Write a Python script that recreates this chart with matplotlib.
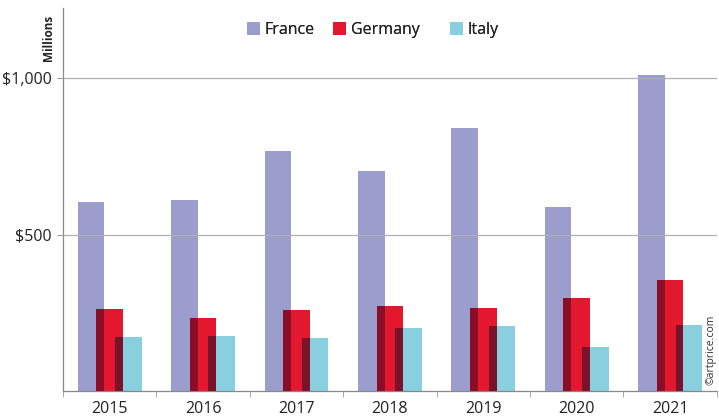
import matplotlib.pyplot as plt
import matplotlib.colors as mc
import numpy as np

plt.rcParams['font.family'] = ['Open Sans', 'DejaVu Sans']

years = ['2015', '2016', '2017', '2018', '2019', '2020', '2021']
france = [606, 612, 769, 702, 840, 587, 1010]
germany = [263, 234, 260, 272, 266, 298, 356]
italy = [173, 176, 170, 202, 208, 141, 212]

c_fr = '#9b9ecd'
c_de = '#e3182f'
c_it = '#88cfe0'


def multiply(a, b):
    # colour of two bars seen through each other (multiply blend)
    ra, rb = mc.to_rgb(a), mc.to_rgb(b)
    return tuple(p * q for p, q in zip(ra, rb))


fig = plt.figure(figsize=(7.19, 4.18), dpi=100)
ax = fig.add_axes([0.0876, 0.0646, 0.9094, 0.9164])

x = np.arange(len(years))
off = 0.2
w = 0.285

b_fr = ax.bar(x - off, france, w, color=c_fr, label='France', zorder=2)
b_de = ax.bar(x, germany, w, color=c_de, label='Germany', zorder=2)
b_it = ax.bar(x + off, italy, w, color=c_it, label='Italy', zorder=2)

# overlap strips
ov = w - off
ax.bar(x - w / 2 + ov / 2, np.minimum(france, germany), ov,
       color=multiply(c_fr, c_de), zorder=3)
ax.bar(x + off - w / 2 + ov / 2, np.minimum(germany, italy), ov,
       color=multiply(c_de, c_it), zorder=3)

ax.set_xlim(-0.5, len(years) - 0.5)
ax.set_ylim(0, 1225)
ax.set_yticks([500, 1000])
ax.set_yticklabels(['$500', '$1,000'], fontsize=11.5, color='#222222')
ax.yaxis.grid(True, color='#b0b0b0', linewidth=0.9, zorder=4)
ax.set_axisbelow(False)

ax.set_xticks(x)
ax.set_xticklabels(years, fontsize=11.5, color='#222222')
ax.set_xticks(np.arange(len(years) + 1) - 0.5, minor=True)
ax.tick_params(axis='x', which='major', length=0, pad=7)
ax.tick_params(axis='x', which='minor', length=4, color='#999999')
ax.tick_params(axis='y', length=4, color='#999999', pad=4)

for s in ['top', 'right']:
    ax.spines[s].set_visible(False)
for s in ['left', 'bottom']:
    ax.spines[s].set_color('#888888')
    ax.spines[s].set_linewidth(0.9)

fig.text(0.068, 0.964, 'Millions', rotation=90, fontsize=8.5, fontweight='bold',
         ha='center', va='top', color='#222222')
fig.text(0.989, 0.079, '©artprice.com', rotation=90, fontsize=7.5,
         ha='center', va='bottom', color='#333333')

# legend entries placed one by one, as in the original
for bars, name, xpos in [(b_fr, 'France', 247), (b_de, 'Germany', 333), (b_it, 'Italy', 450)]:
    leg = fig.legend([bars], [name], loc='center left',
                     bbox_to_anchor=(xpos / 719, 1 - 30 / 418), frameon=False,
                     fontsize=11.5, handlelength=0.8, handleheight=0.8,
                     handletextpad=0.3, borderpad=0, borderaxespad=0,
                     labelcolor='#222222')
    fig.add_artist(leg)

fig.savefig('out.png', dpi=100)
